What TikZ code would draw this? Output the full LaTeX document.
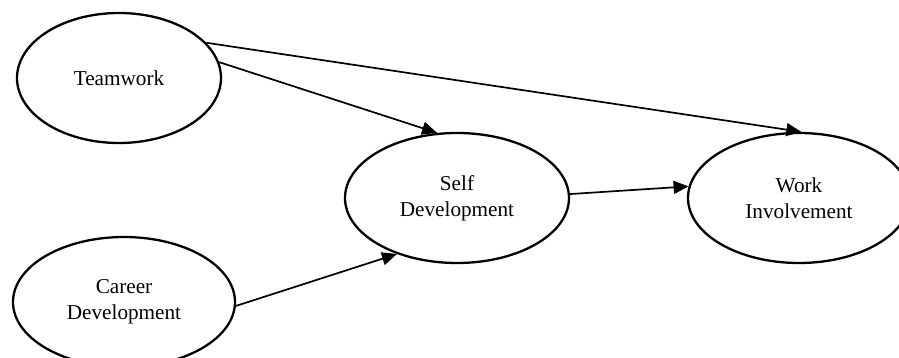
\documentclass[tikz,border=0pt]{standalone}
\usepackage{fontspec}
\setmainfont{Liberation Serif}
\usetikzlibrary{arrows.meta,shapes.geometric}
\begin{document}
\begin{tikzpicture}[x=0.5pt,y=-0.5pt,
  var/.style={ellipse, draw, line width=1.15pt, align=center, inner sep=0pt,
    font=\fontsize{10.6}{13}\selectfont},
  conn/.style={line width=0.85pt, -{Triangle[length=7.5pt,width=6.5pt]}}]
\useasboundingbox (0,0) rectangle (899,358);
\node[var, minimum width=102pt, minimum height=65pt] (tw) at (119,78) {Teamwork};
\node[var, minimum width=112pt, minimum height=65pt] (sd) at (457,198) {Self\\Development};
\node[var, minimum width=111pt, minimum height=65pt] (wi) at (799,198) {Work\\Involvement};
\node[var, minimum width=111pt, minimum height=65pt] (cd) at (124,302) {Career\\Development};
\draw[conn] (tw.9.4) -- (sd.107.6);
\draw[conn] (tw.22.8) -- (wi.88);
\draw[conn] (sd.2.6) -- (wi.174.6);
\draw[conn] (cd.-2.6) -- (sd.223);
\end{tikzpicture}
\end{document}
